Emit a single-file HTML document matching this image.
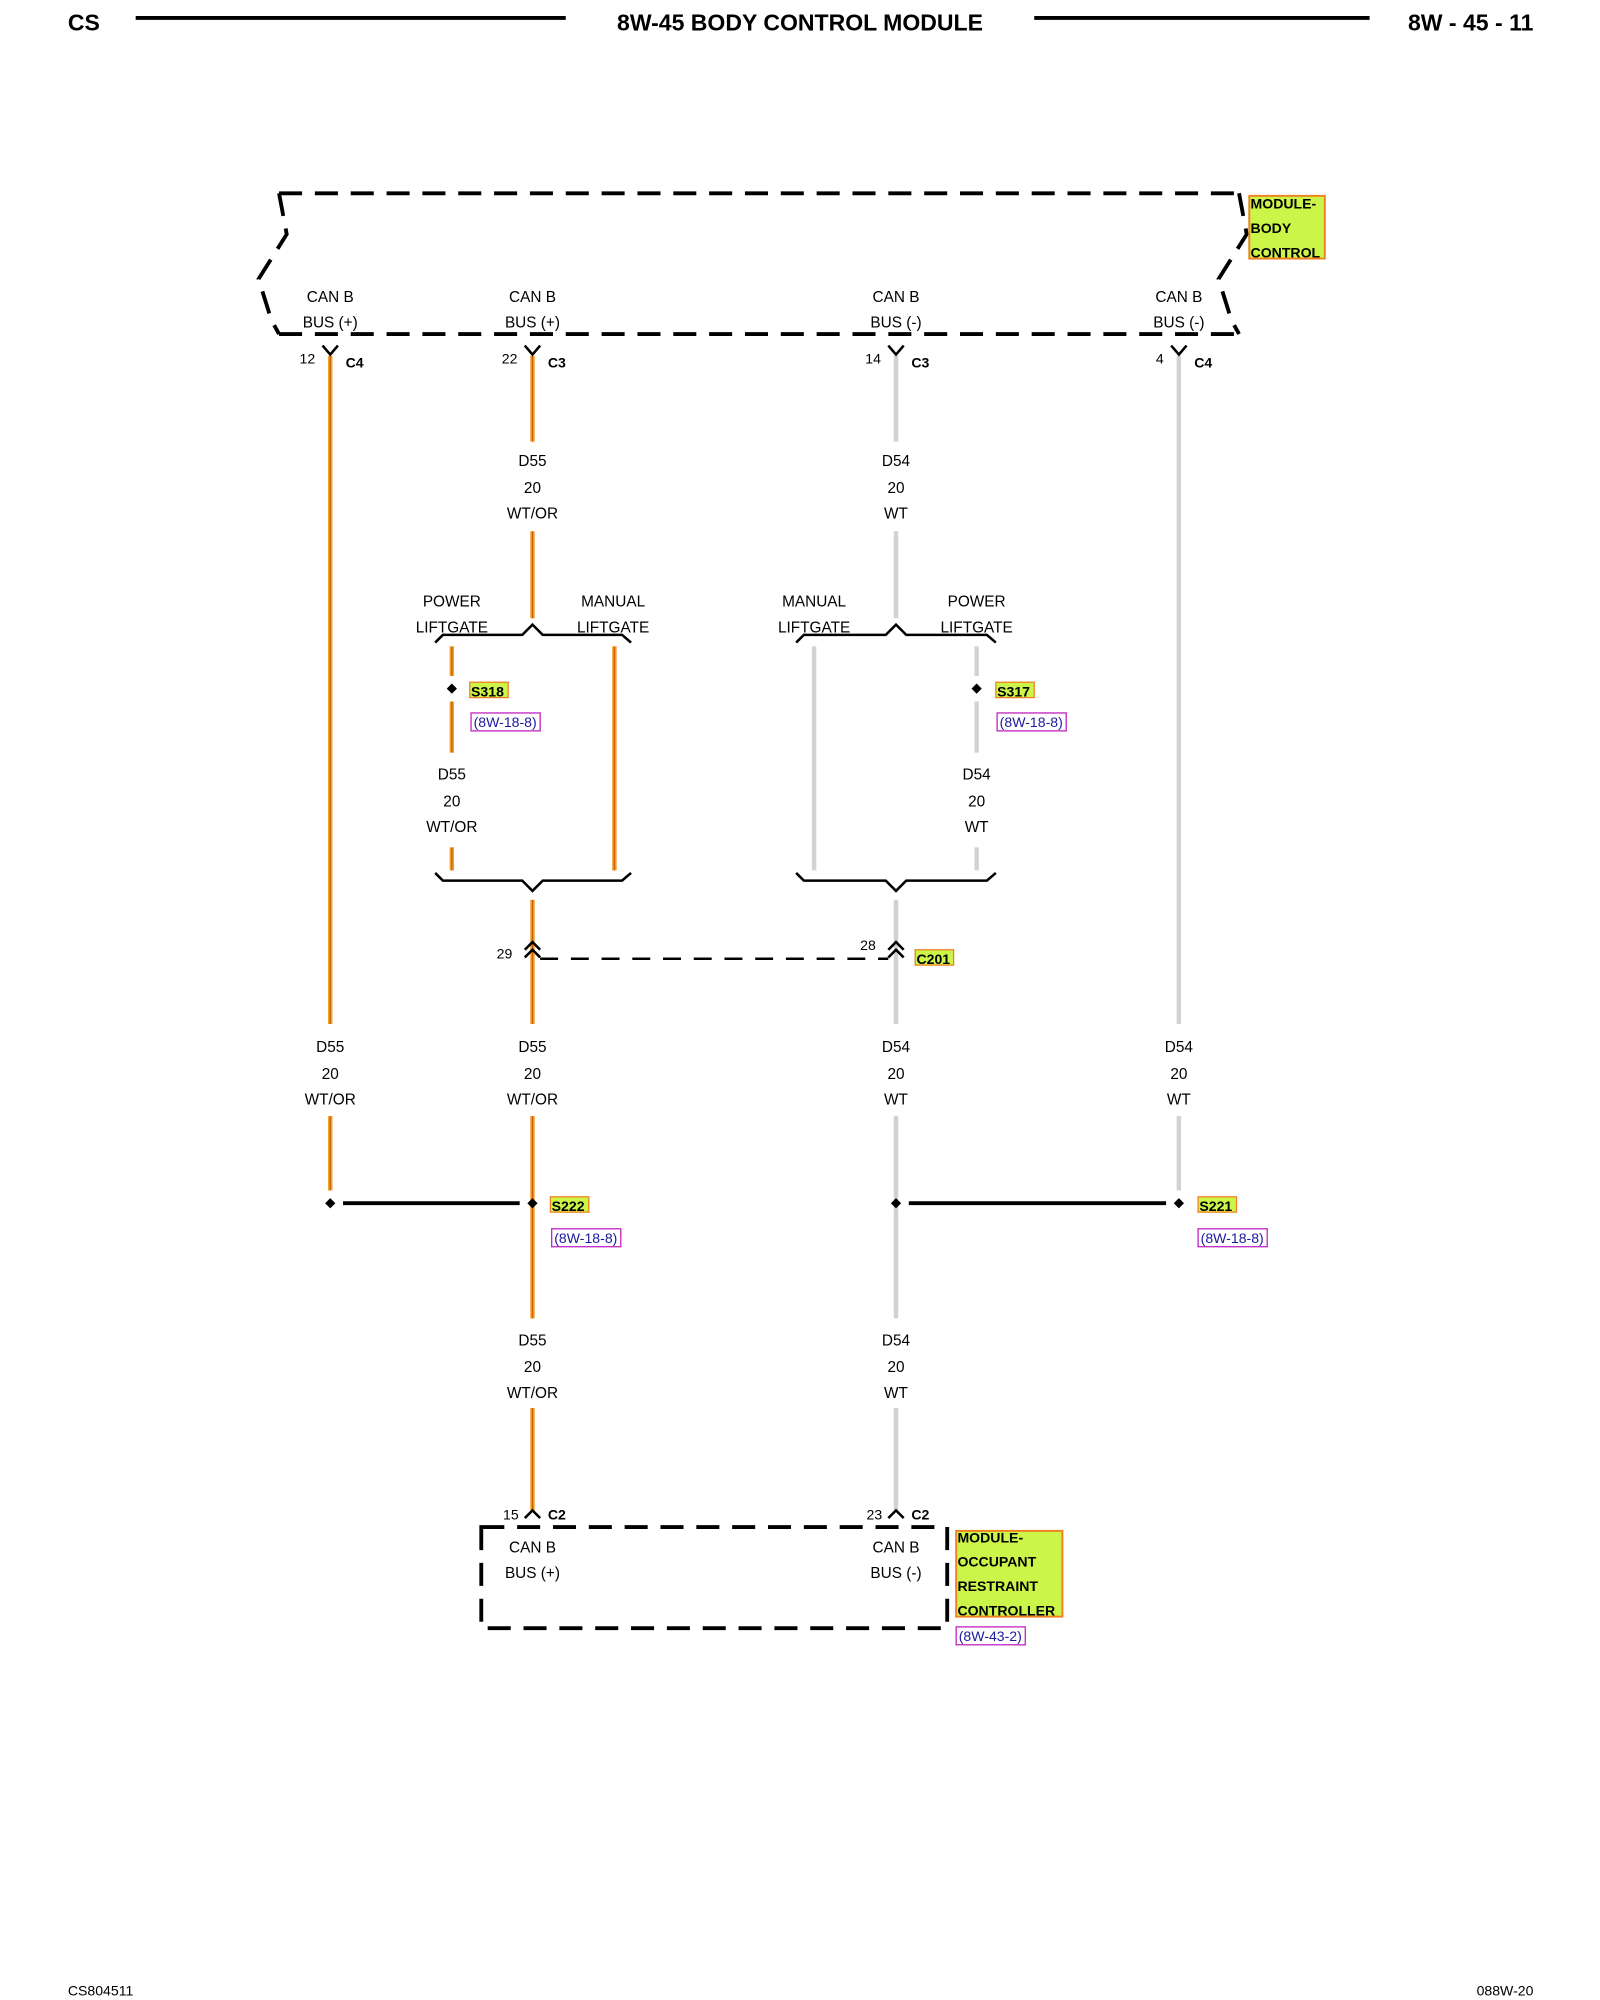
<!DOCTYPE html>
<html><head><meta charset="utf-8"><style>
html,body{margin:0;padding:0;background:#fff;width:1600px;height:2000px;overflow:hidden}
svg{display:block}
text{font-family:"Liberation Sans",Arial,sans-serif;fill:#000}
</style></head><body>
<svg width="1600" height="2000" viewBox="0 0 1250 1562.5" xmlns="http://www.w3.org/2000/svg">
<!-- header -->
<text x="53" y="24" font-size="18" font-weight="bold">CS</text>
<line x1="106" y1="14" x2="442" y2="14" stroke="#000" stroke-width="3"/>
<text x="625" y="24" font-size="18" font-weight="bold" text-anchor="middle">8W-45 BODY CONTROL MODULE</text>
<line x1="808" y1="14" x2="1070" y2="14" stroke="#000" stroke-width="3"/>
<text x="1198" y="24" font-size="18" font-weight="bold" text-anchor="end">8W - 45 - 11</text>
<text x="53" y="1563" font-size="11" dy="-4">CS804511</text>
<text x="1198" y="1563" font-size="11" dy="-4" text-anchor="end">088W-20</text>

<g fill="none" stroke="#000" stroke-width="3" stroke-dasharray="18,10">
<path d="M218 151 L968 151 M218 261 L968 261"/>
<path d="M218 151 L224 183 L202 218 L212 250 L218 261"/>
<path d="M968 151 L974 183 L952 218 L962 250 L968 261"/>
<rect x="376" y="1193" width="364" height="79"/>
</g>
<line x1="422" y1="749" x2="694" y2="749" stroke="#000" stroke-width="2" stroke-dasharray="14,10"/>

<!-- tag boxes -->
<g font-size="11" font-weight="bold">
<rect x="976" y="153" width="59" height="49" fill="#ccf54a" stroke="#f08020" stroke-width="1.5"/>
<text x="977" y="163">MODULE-</text><text x="977" y="182">BODY</text><text x="977" y="201">CONTROL</text>
<rect x="747" y="1196" width="83" height="67" fill="#ccf54a" stroke="#f08020" stroke-width="1.5"/>
<text x="748" y="1205">MODULE-</text><text x="748" y="1224">OCCUPANT</text><text x="748" y="1243">RESTRAINT</text><text x="748" y="1262">CONTROLLER</text>
</g>
<g font-size="11" font-weight="bold">
<rect x="367" y="533" width="30" height="12" fill="#ccf54a" stroke="#f08020"/><text x="368" y="544">S318</text>
<rect x="778" y="533" width="30" height="12" fill="#ccf54a" stroke="#f08020"/><text x="779" y="544">S317</text>
<rect x="715" y="742" width="30" height="12" fill="#ccf54a" stroke="#f08020"/><text x="716" y="753">C201</text>
<rect x="430" y="935" width="30" height="12" fill="#ccf54a" stroke="#f08020"/><text x="431" y="946">S222</text>
<rect x="936" y="935" width="30" height="12" fill="#ccf54a" stroke="#f08020"/><text x="937" y="946">S221</text>
</g>
<g font-size="11" fill="none">
<rect x="368" y="557" width="54" height="14" stroke="#c020c0"/><text x="370" y="568" style="fill:#1a1aa0">(8W-18-8)</text>
<rect x="779" y="557" width="54" height="14" stroke="#c020c0"/><text x="781" y="568" style="fill:#1a1aa0">(8W-18-8)</text>
<rect x="431" y="960" width="54" height="14" stroke="#c020c0"/><text x="433" y="971" style="fill:#1a1aa0">(8W-18-8)</text>
<rect x="936" y="960" width="54" height="14" stroke="#c020c0"/><text x="938" y="971" style="fill:#1a1aa0">(8W-18-8)</text>
<rect x="747" y="1271" width="54" height="14" stroke="#c020c0"/><text x="749" y="1282" style="fill:#1a1aa0">(8W-43-2)</text>
</g>

<!-- wires -->
<g stroke="#f0a030" stroke-width="3.5" fill="none">
<path d="M258 278 V800 M258 872 V930"/>
<path d="M416 278 V345 M416 415 V483 M416 703 V800 M416 872 V1030 M416 1100 V1180"/>
<path d="M353 505 V528 M353 548 V588 M353 662 V680 M480 505 V680"/>
</g>
<g stroke="#c86000" stroke-width="1" fill="none">
<path d="M258 278 V800 M258 872 V930 M416 278 V345 M416 415 V483 M416 703 V800 M416 872 V1030 M416 1100 V1180 M353 505 V528 M353 548 V588 M353 662 V680 M480 505 V680"/>
</g>
<g stroke="#d2d2d2" stroke-width="3.5" fill="none">
<path d="M700 278 V345 M700 415 V483 M700 703 V800 M700 872 V1030 M700 1100 V1180"/>
<path d="M921 278 V800 M921 872 V930"/>
<path d="M636 505 V680 M763 505 V528 M763 548 V588 M763 662 V680"/>
</g>
<!-- splice lines -->
<g stroke="#000" stroke-width="3"><line x1="268" y1="940" x2="406" y2="940"/><line x1="710" y1="940" x2="911" y2="940"/></g>
<g fill="#000">
<path d="M258 936 l4 4 -4 4 -4 -4z"/><path d="M416 936 l4 4 -4 4 -4 -4z"/>
<path d="M700 936 l4 4 -4 4 -4 -4z"/><path d="M921 936 l4 4 -4 4 -4 -4z"/>
<path d="M353 534 l4 4 -4 4 -4 -4z"/><path d="M763 534 l4 4 -4 4 -4 -4z"/>
</g>
<!-- braces -->
<g stroke="#000" stroke-width="2" fill="none">
<path d="M340 502 L346 496 L408 496 L416 488 L424 496 L486 496 L493 502"/>
<path d="M622 502 L628 496 L692 496 L700 488 L708 496 L771 496 L778 502"/>
<path d="M340 682 L346 688 L408 688 L416 696 L424 688 L486 688 L493 682"/>
<path d="M622 682 L628 688 L692 688 L700 696 L708 688 L771 688 L778 682"/>
<!-- Y connectors -->
<path d="M252 270 L258 277 L264 270"/><path d="M410 270 L416 277 L422 270"/>
<path d="M694 270 L700 277 L706 270"/><path d="M915 270 L921 277 L927 270"/>
<!-- C201 -->
<path d="M410 742 L416 736 L422 742 M410 748 L416 742 L422 748"/>
<path d="M694 742 L700 736 L706 742 M694 748 L700 742 L706 748"/>
<!-- C2 -->
<path d="M410 1186 L416 1180 L422 1186"/><path d="M694 1186 L700 1180 L706 1186"/>
</g>

<g font-size="12" text-anchor="middle">
<text x="258" y="236">CAN B</text><text x="258" y="256">BUS (+)</text>
<text x="416" y="236">CAN B</text><text x="416" y="256">BUS (+)</text>
<text x="700" y="236">CAN B</text><text x="700" y="256">BUS (-)</text>
<text x="921" y="236">CAN B</text><text x="921" y="256">BUS (-)</text>
<text x="416" y="364">D55</text><text x="416" y="385">20</text><text x="416" y="405">WT/OR</text>
<text x="700" y="364">D54</text><text x="700" y="385">20</text><text x="700" y="405">WT</text>
<text x="353" y="474">POWER</text><text x="353" y="494">LIFTGATE</text>
<text x="479" y="474">MANUAL</text><text x="479" y="494">LIFTGATE</text>
<text x="636" y="474">MANUAL</text><text x="636" y="494">LIFTGATE</text>
<text x="763" y="474">POWER</text><text x="763" y="494">LIFTGATE</text>
<text x="353" y="609">D55</text><text x="353" y="630">20</text><text x="353" y="650">WT/OR</text>
<text x="763" y="609">D54</text><text x="763" y="630">20</text><text x="763" y="650">WT</text>
<text x="258" y="822">D55</text><text x="258" y="843">20</text><text x="258" y="863">WT/OR</text>
<text x="416" y="822">D55</text><text x="416" y="843">20</text><text x="416" y="863">WT/OR</text>
<text x="700" y="822">D54</text><text x="700" y="843">20</text><text x="700" y="863">WT</text>
<text x="921" y="822">D54</text><text x="921" y="843">20</text><text x="921" y="863">WT</text>
<text x="416" y="1051">D55</text><text x="416" y="1072">20</text><text x="416" y="1092">WT/OR</text>
<text x="700" y="1051">D54</text><text x="700" y="1072">20</text><text x="700" y="1092">WT</text>
<text x="416" y="1213">CAN B</text><text x="416" y="1233">BUS (+)</text>
<text x="700" y="1213">CAN B</text><text x="700" y="1233">BUS (-)</text>
</g>
<g font-size="11">
<text x="234" y="284">12</text><text x="392" y="284">22</text><text x="676" y="284">14</text><text x="903" y="284">4</text>
<text x="388" y="749">29</text><text x="672" y="742">28</text>
<text x="393" y="1187">15</text><text x="677" y="1187">23</text>
</g>
<g font-size="11" font-weight="bold">
<text x="270" y="287">C4</text><text x="428" y="287">C3</text><text x="712" y="287">C3</text><text x="933" y="287">C4</text>
<text x="428" y="1187">C2</text><text x="712" y="1187">C2</text>
</g>
</svg>
</body></html>
